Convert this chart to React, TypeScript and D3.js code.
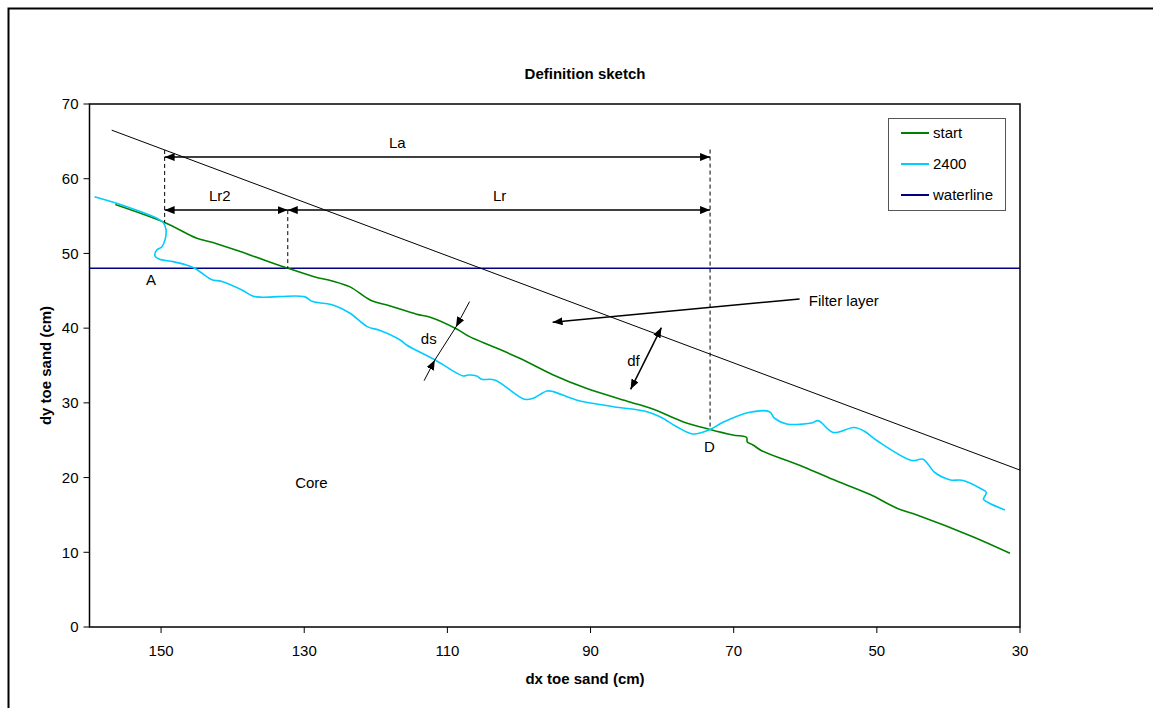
import React from "react";
import * as d3 from "d3";

// Axis ticks
const xTicks = [150, 130, 110, 90, 70, 50, 30];
const yTicks = [0, 10, 20, 30, 40, 50, 60, 70];

// Initial profile ("start"), [dx, dy] in cm
const startProfile: [number, number][] = [
  [156.4, 56.56], [149.5, 54.15], [145.0, 52.03], [142.75, 51.47], [137.6, 49.8],
  [132.3, 48.02], [128.5, 46.85], [126.1, 46.32], [123.6, 45.52], [120.8, 43.78],
  [118.0, 42.97], [114.3, 41.86], [112.4, 41.46], [108.7, 39.89], [106.9, 38.86],
  [103.6, 37.52], [99.9, 35.97], [95.2, 33.73], [90.6, 31.95], [84.5, 30.12],
  [81.3, 29.18], [77.1, 27.48], [73.3, 26.44], [70.1, 25.7], [68.2, 25.37],
  [68.1, 24.77], [67.3, 24.36], [66.1, 23.6], [60.3, 21.46], [56.2, 19.77],
  [51.0, 17.76], [47.2, 15.89], [44.4, 14.99], [36.6, 12.09], [31.4, 9.87],
];

// Profile after 2400 waves
const profile2400: [number, number][] = [
  [159.3, 57.6], [156.2, 56.72], [152.9, 55.6], [150.6, 54.71], [149.7, 54.15],
  [149.3, 53.15], [149.45, 51.81], [149.9, 50.87], [150.6, 50.47], [150.85, 49.67],
  [150.3, 49.26], [148.3, 48.9], [146.5, 48.46], [145.3, 48.02], [143.0, 46.52],
  [141.5, 46.25], [138.7, 45.11], [137.2, 44.31], [135.9, 44.14], [130.0, 44.22],
  [128.8, 43.55], [126.0, 43.11], [123.6, 41.99], [121.2, 40.2], [119.4, 39.69],
  [116.6, 38.42], [115.7, 37.75], [111.7, 35.74], [107.8, 33.6], [107.1, 33.73],
  [105.9, 33.6], [105.2, 33.16], [103.4, 33.07], [99.2, 30.48], [98.0, 30.62],
  [96.1, 31.59], [95.2, 31.5], [92.0, 30.39], [86.8, 29.49], [82.1, 28.82],
  [80.3, 28.15], [79.5, 27.71], [77.9, 26.77], [75.7, 25.84], [73.3, 26.44],
  [71.5, 27.4], [67.75, 28.74], [65.0, 28.82], [64.3, 27.94], [62.6, 27.18],
  [59.1, 27.31], [58.2, 27.62], [56.1, 26.04], [53.2, 26.71], [51.8, 26.24],
  [49.9, 24.9], [45.1, 22.29], [43.55, 22.46], [41.9, 20.68], [39.7, 19.68],
  [38.1, 19.64], [35.5, 18.54], [34.7, 18.01], [35.1, 17.09], [34.4, 16.64],
  [32.1, 15.66],
];

// Still water level
const waterline = 48;

// Outer boundary of the filter layer
const filterBoundary: [number, number][] = [[156.9, 66.5], [30, 21.0]];

// Reference positions (cm)
const xA = 149.5;
const xLr2 = 132.3;
const xD = 73.3;
const yLa = 62.9;
const yLr = 55.8;

const dashedLines: { x: number; y1: number; y2: number }[] = [
  { x: xA, y1: 63.85, y2: 54.15 },
  { x: xLr2, y1: yLr, y2: 48.0 },
  { x: xD, y1: 63.9, y2: 26.44 },
];

const dimArrows: { x1: number; x2: number; y: number; label: string; lx: number }[] = [
  { x1: xA, x2: xD, y: yLa, label: "La", lx: 117.0 },
  { x1: xA, x2: xLr2, y: yLr, label: "Lr2", lx: 141.8 },
  { x1: xLr2, x2: xD, y: yLr, label: "Lr", lx: 102.7 },
];

// ds: thickness measured across the sand layer
const dsTop: [number, number] = [106.9, 43.55];
const dsUpper: [number, number] = [108.8, 40.16];
const dsLower: [number, number] = [111.75, 35.74];
const dsBottom: [number, number] = [113.25, 32.97];

// df: filter layer thickness
const dfEnds: [number, number][] = [[80.1, 40.07], [84.4, 31.81]];

// Filter layer pointer
const filterPointer: [number, number][] = [[60.8, 43.9], [95.3, 40.8]];

const textLabels: { x: number; y: number; text: string; anchor: string }[] = [
  { x: 151.4, y: 46.5, text: "A", anchor: "middle" },
  { x: 73.4, y: 24.1, text: "D", anchor: "middle" },
  { x: 129.0, y: 19.3, text: "Core", anchor: "middle" },
  { x: 112.6, y: 38.6, text: "ds", anchor: "middle" },
  { x: 84.0, y: 35.7, text: "df", anchor: "middle" },
  { x: 59.5, y: 43.6, text: "Filter layer", anchor: "start" },
];

const legendItems = [
  { label: "start", color: "#008000" },
  { label: "2400", color: "#00CCFF" },
  { label: "waterline", color: "#000080" },
];

const W = 1153;
const H = 708;
const plot = { left: 89.5, right: 1020, top: 104, bottom: 627 };
const FONT = "'Liberation Sans', Arial, sans-serif";
const FS = 15;
const titleX = 585;

export default function App() {
  const x = d3.scaleLinear().domain([160, 30]).range([plot.left, plot.right]);
  const y = d3.scaleLinear().domain([0, 70]).range([plot.bottom, plot.top]);

  const line = d3
    .line<[number, number]>()
    .x((d) => x(d[0]))
    .y((d) => y(d[1]))
    .curve(d3.curveCatmullRom.alpha(0.5));

  const straight = d3
    .line<[number, number]>()
    .x((d) => x(d[0]))
    .y((d) => y(d[1]));

  const cy = (plot.top + plot.bottom) / 2;

  return (
    <svg
      width={W}
      height={H}
      style={{ position: "absolute", left: 0, top: 0, background: "#fff" }}
      fontFamily={FONT}
    >
      <defs>
        <marker
          id="arrow"
          viewBox="0 0 10 8"
          refX={10}
          refY={4}
          markerWidth={10}
          markerHeight={8}
          markerUnits="userSpaceOnUse"
          orient="auto-start-reverse"
        >
          <path d="M0,0 L10,4 L0,8 Z" fill="#000" />
        </marker>
      </defs>

      {/* chart frame */}
      <rect x={8.5} y={8.5} width={W + 10} height={H + 10} fill="#fff" stroke="#000" strokeWidth={2} />

      {/* title */}
      <text x={titleX} y={79} textAnchor="middle" fontSize={FS} fontWeight="bold">
        Definition sketch
      </text>

      {/* plot area */}
      <rect
        x={plot.left}
        y={plot.top}
        width={plot.right - plot.left}
        height={plot.bottom - plot.top}
        fill="#fff"
        stroke="#000"
        strokeWidth={1.5}
      />

      {/* y axis */}
      {yTicks.map((t) => (
        <g key={"y" + t}>
          <line x1={plot.left - 6} x2={plot.left} y1={y(t)} y2={y(t)} stroke="#000" />
          <text x={plot.left - 11} y={y(t)} dy="0.35em" textAnchor="end" fontSize={FS}>
            {t}
          </text>
        </g>
      ))}
      {/* x axis */}
      {xTicks.map((t) => (
        <g key={"x" + t}>
          <line x1={x(t)} x2={x(t)} y1={plot.bottom} y2={plot.bottom + 6} stroke="#000" />
          <text x={x(t)} y={plot.bottom + 29} textAnchor="middle" fontSize={FS}>
            {t}
          </text>
        </g>
      ))}

      <text x={titleX} y={684} textAnchor="middle" fontSize={FS} fontWeight="bold">
        dx toe sand (cm)
      </text>
      <text
        transform={`translate(51,${cy}) rotate(-90)`}
        textAnchor="middle"
        fontSize={FS}
        fontWeight="bold"
      >
        dy toe sand (cm)
      </text>

      {/* waterline */}
      <line x1={plot.left} x2={plot.right} y1={y(waterline)} y2={y(waterline)} stroke="#000080" strokeWidth={1.5} />

      {/* filter layer boundary */}
      <path d={straight(filterBoundary) || ""} fill="none" stroke="#000" strokeWidth={1} />

      {/* profiles */}
      <path d={line(startProfile) || ""} fill="none" stroke="#008000" strokeWidth={1.6} />
      <path d={line(profile2400) || ""} fill="none" stroke="#00CCFF" strokeWidth={1.6} />

      {/* dashed reference lines */}
      {dashedLines.map((d, i) => (
        <line
          key={"dl" + i}
          x1={x(d.x)}
          x2={x(d.x)}
          y1={y(d.y1)}
          y2={y(d.y2)}
          stroke="#000"
          strokeDasharray="4,3"
          strokeWidth={1}
        />
      ))}

      {/* dimension arrows */}
      {dimArrows.map((a, i) => (
        <g key={"da" + i}>
          <line
            x1={x(a.x1)}
            x2={x(a.x2)}
            y1={y(a.y)}
            y2={y(a.y)}
            stroke="#000"
            strokeWidth={1.5}
            markerStart="url(#arrow)"
            markerEnd="url(#arrow)"
          />
          <text x={x(a.lx)} y={y(a.y) - 9} textAnchor="middle" fontSize={FS}>
            {a.label}
          </text>
        </g>
      ))}

      {/* ds */}
      <path d={straight([dsTop, dsUpper]) || ""} stroke="#000" strokeWidth={1} markerEnd="url(#arrow)" />
      <path d={straight([dsUpper, dsLower]) || ""} stroke="#000" strokeWidth={1} />
      <path d={straight([dsBottom, dsLower]) || ""} stroke="#000" strokeWidth={1} markerEnd="url(#arrow)" />

      {/* df */}
      <path
        d={straight(dfEnds) || ""}
        stroke="#000"
        strokeWidth={1.5}
        markerStart="url(#arrow)"
        markerEnd="url(#arrow)"
      />

      {/* filter layer pointer */}
      <path d={straight(filterPointer) || ""} stroke="#000" strokeWidth={1.5} markerEnd="url(#arrow)" />

      {textLabels.map((t, i) => (
        <text key={"t" + i} x={x(t.x)} y={y(t.y)} dy="0.35em" textAnchor={t.anchor} fontSize={FS}>
          {t.text}
        </text>
      ))}

      {/* legend */}
      <g>
        <rect x={888.5} y={118.5} width={117} height={92} fill="#fff" stroke="#555" strokeWidth={1} />
        {legendItems.map((it, i) => (
          <g key={it.label}>
            <line x1={901} x2={929} y1={133 + i * 31} y2={133 + i * 31} stroke={it.color} strokeWidth={2} />
            <text x={933} y={133 + i * 31} dy="0.35em" fontSize={FS}>
              {it.label}
            </text>
          </g>
        ))}
      </g>
    </svg>
  );
}
